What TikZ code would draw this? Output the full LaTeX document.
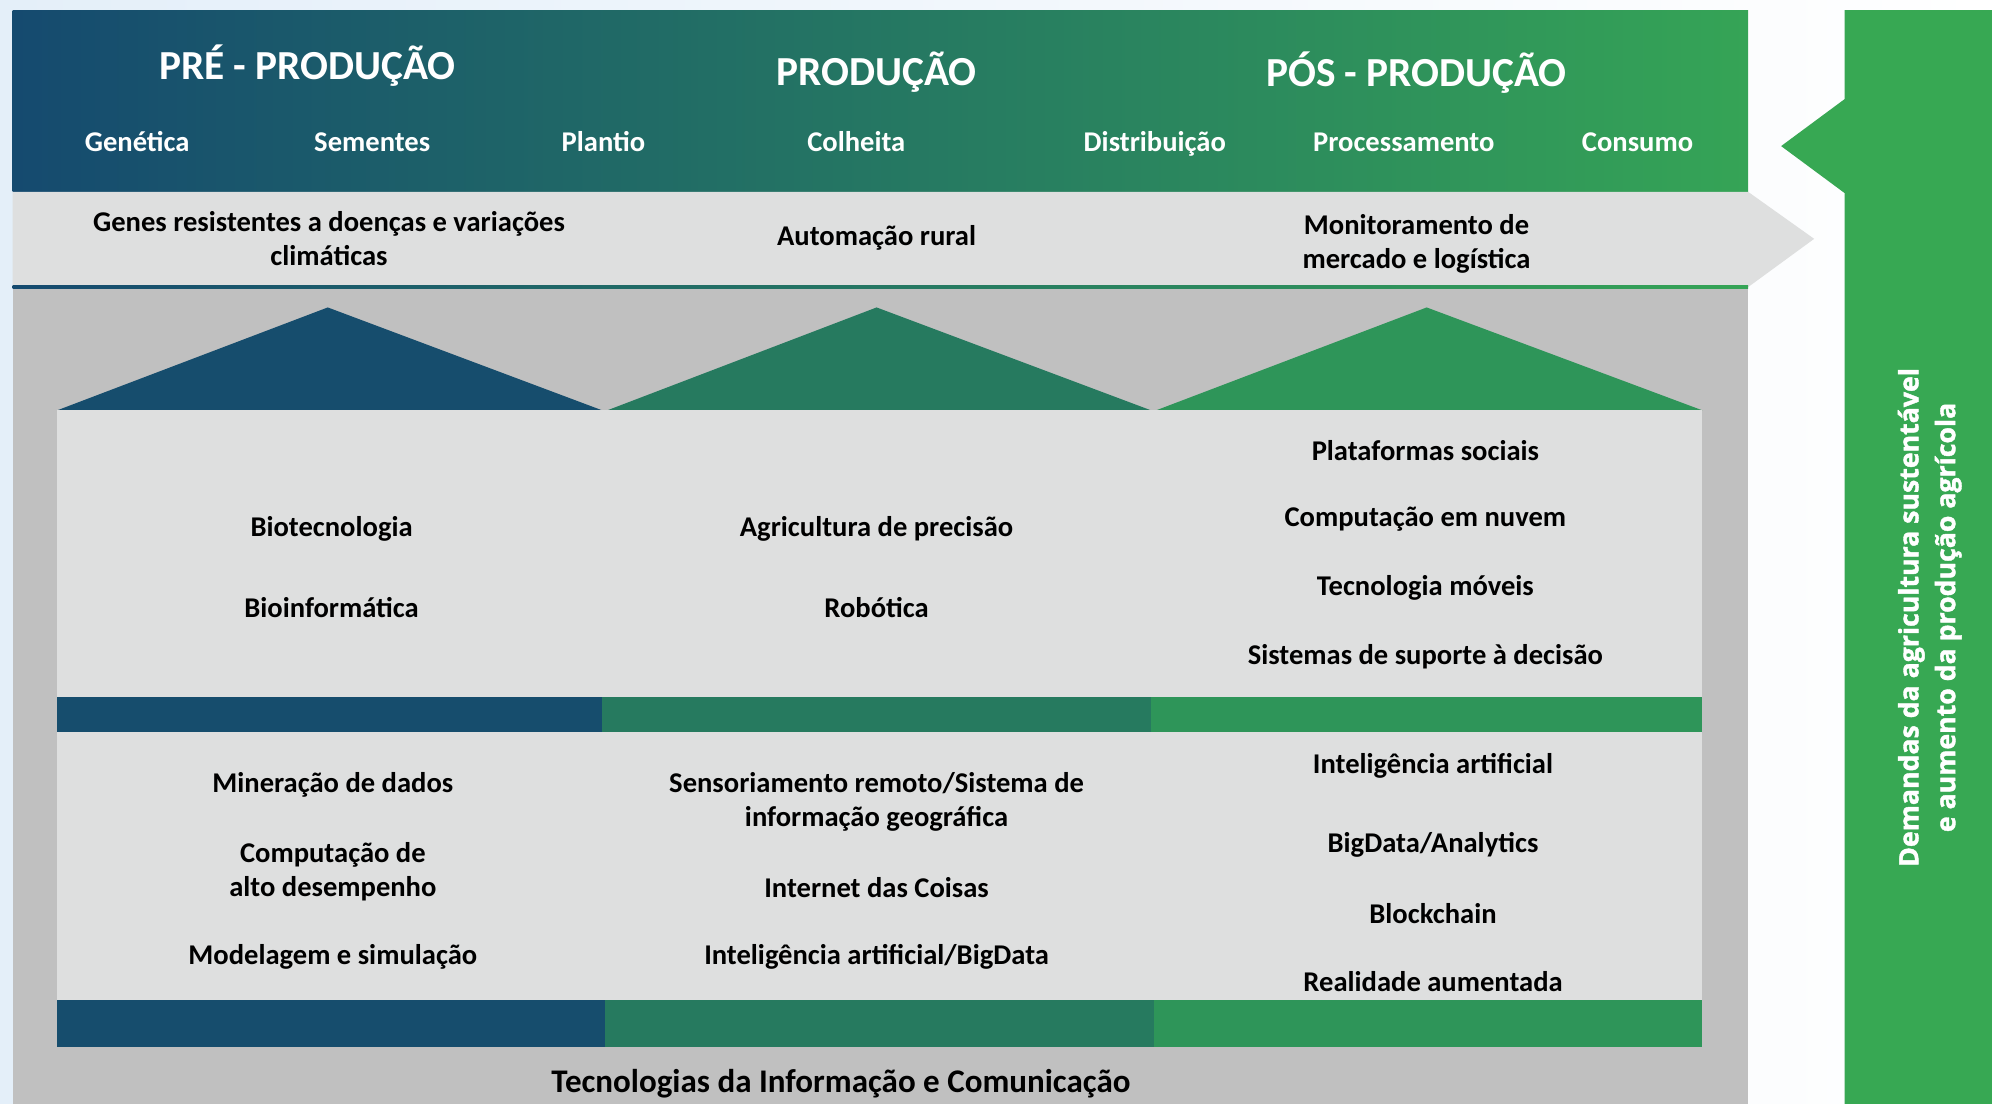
\documentclass[tikz,border=0pt]{standalone}
\usepackage{fontspec}
\setmainfont{Carlito}
\newfontfamily\sidefont{Open Sans}[BoldFeatures={FakeBold=1.5}]
\usetikzlibrary{positioning}

\definecolor{ppblue}{HTML}{164D6D}
\definecolor{ppteal}{HTML}{267A5F}
\definecolor{ppgreen}{HTML}{2E9559}
\definecolor{bargreen}{HTML}{37A853}
\definecolor{hdblue}{HTML}{154A6F}
\definecolor{hdteal}{HTML}{22715F}
\definecolor{hdgreen}{HTML}{35A456}
\definecolor{panelgray}{HTML}{DEDFDF}
\definecolor{basegray}{HTML}{C0C0C0}
\definecolor{bgblue}{HTML}{E4EFF9}

\tikzset{
    phase/.style={text=white, font=\fontsize{32.5}{39}\selectfont\bfseries},
    stage/.style={text=white, anchor=base, font=\fontsize{22.5}{27}\selectfont\bfseries},
    tech/.style={text=black, align=center, inner sep=0pt, yshift=-2pt, font=\fontsize{22.5}{27}\selectfont\bfseries},
    side/.style={text=white, align=center, font=\sidefont\fontsize{21}{29}\selectfont\bfseries},
}

\begin{document}
\begin{tikzpicture}[x=1pt,y=-1pt]
        \useasboundingbox (0,0) rectangle (1568,869);
        \shade[left color=bgblue, right color=white] (0,0) rectangle (1568,869);

        % header and band
        \shade[left color=hdblue, middle color=hdteal, right color=hdgreen] (10,8) rectangle (1376,151);
        \fill[panelgray] (10,151) -- (1376,151) -- (1428,188) -- (1376,226) -- (10,226) -- cycle;
        \fill[basegray] (10,226) rectangle (1376,869);
        \shade[left color=hdblue, middle color=hdteal, right color=hdgreen] (10,225) rectangle (1376,227);

        % side bar
        \fill[bargreen] (1452,8) -- (1568,8) -- (1568,869) -- (1452,869) -- (1452,152) -- (1402,115) -- (1452,78) -- cycle;

        % roofs
        \fill[ppblue] (45,323) -- (258,242) -- (474,323) -- cycle;
        \fill[ppteal] (478,323) -- (690,242) -- (906,323) -- cycle;
        \fill[ppgreen] (910,323) -- (1123,242) -- (1340,323) -- cycle;

        % panels and stripes
        \fill[panelgray] (45,323) rectangle (1340,549);
        \fill[panelgray] (45,576) rectangle (1340,787);
        \fill[ppblue] (45,549) rectangle (474,576);
        \fill[ppteal] (474,549) rectangle (906,576);
        \fill[ppgreen] (906,549) rectangle (1340,576);
        \fill[ppblue] (45,787) rectangle (476,824);
        \fill[ppteal] (476,787) rectangle (908,824);
        \fill[ppgreen] (908,787) rectangle (1340,824);

        \node[phase] at (242,52)(pre){PRÉ - PRODUÇÃO};
        \node[phase] at (690,57)(prod){PRODUÇÃO};
        \node[phase] at (1115,57)(pos){PÓS - PRODUÇÃO};

        \node[stage] at (108,119)(genetica){Genética};
        \node[stage] at (293,119)(sementes){Sementes};
        \node[stage] at (475,119)(plantio){Plantio};
        \node[stage] at (674,119)(colheita){Colheita};
        \node[stage] at (909,119)(distrib){Distribuição};
        \node[stage] at (1105,119)(process){Processamento};
        \node[stage] at (1289,119)(consumo){Consumo};

        \node[tech] at (259,186)(genes){Genes resistentes a doenças e variações\\climáticas};
        \node[tech] at (690,185)(autom){Automação rural};
        \node[tech] at (1115,190)(monit){Monitoramento de\\mercado e logística};

        \node[tech] at (261,414)(biotec){Biotecnologia};
        \node[tech] at (261,476)(bioinf){Bioinformática};
        \node[tech] at (690,414)(agriprec){Agricultura de precisão};
        \node[tech] at (690,476)(robot){Robótica};
        \node[tech] at (1122,353)(plataf){Plataformas sociais};
        \node[tech] at (1122,407)(nuvem){Computação em nuvem};
        \node[tech] at (1122,461)(moveis){Tecnologia móveis};
        \node[tech] at (1122,515)(suporte){Sistemas de suporte à decisão};

        \node[tech] at (262,616)(miner){Mineração de dados};
        \node[tech] at (262,684)(hpc){Computação de\\alto desempenho};
        \node[tech] at (262,751)(modsim){Modelagem e simulação};
        \node[tech] at (690,629)(sensor){Sensoriamento remoto/Sistema de\\informação geográfica};
        \node[tech] at (690,697)(iot){Internet das Coisas};
        \node[tech] at (690,751)(iabig){Inteligência artificial/BigData};
        \node[tech] at (1128,601)(ia){Inteligência artificial};
        \node[tech] at (1128,663)(bigdata){BigData/Analytics};
        \node[tech] at (1128,717)(block){Blockchain};
        \node[tech] at (1128,771)(realid){Realidade aumentada};

        \node[tech, font=\fontsize{26}{31}\selectfont\bfseries] at (662,851)(tic){Tecnologias da Informação e Comunicação};

        \node[side, rotate=90] at (1519,486)(demanda){Demandas da agricultura sustentável\\e aumento da produção agrícola};
    \end{tikzpicture}
\end{document}
